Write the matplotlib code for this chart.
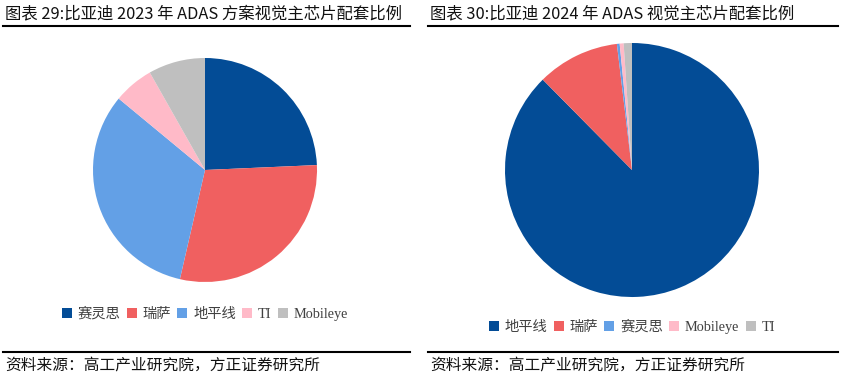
import matplotlib.pyplot as plt
from matplotlib.lines import Line2D
from matplotlib.patches import Patch

plt.rcParams['font.family'] = ['Noto Sans CJK SC', 'DejaVu Sans']

# chart data
labels_2023 = ['赛灵思', '瑞萨', '地平线', 'TI', 'Mobileye']
share_2023 = [24.3, 29.3, 32.4, 5.8, 8.2]
labels_2024 = ['地平线', '瑞萨', '赛灵思', 'Mobileye', 'TI']
share_2024 = [87.6, 10.5, 0.35, 0.5, 1.05]

c_dblue = '#034C96'
c_red = '#F06060'
c_lblue = '#63A0E6'
c_pink = '#FFBAC8'
c_gray = '#BFBFBF'
colors_2023 = [c_dblue, c_red, c_lblue, c_pink, c_gray]
colors_2024 = [c_dblue, c_red, c_lblue, c_pink, c_gray]

W, H = 841, 378
fig = plt.figure(figsize=(W / 100, H / 100), dpi=100)


def px_axes(x0, y0, x1, y1):
    return fig.add_axes([x0 / W, 1 - y1 / H, (x1 - x0) / W, (y1 - y0) / H])


def hline(x0, x1, y, lw=1.5):
    fig.add_artist(Line2D([x0 / W, x1 / W], [1 - y / H, 1 - y / H],
                          color='black', lw=lw))


def legend_for(labels, colors, cx, cy):
    handles = [Patch(facecolor=c, edgecolor='none') for c in colors]
    leg = fig.legend(handles, labels, loc='center', ncol=len(labels),
                     bbox_to_anchor=(cx / W, 1 - cy / H), frameon=False,
                     handlelength=0.7, handleheight=0.7, handletextpad=0.4,
                     columnspacing=0.45, borderpad=0,
                     prop={'family': ['Liberation Serif', 'Noto Sans CJK SC'],
                           'size': 10.3})
    for t in leg.get_texts():
        t.set_color('#404040')


def draw_pie(ax, values, colors):
    ax.pie(values, colors=colors, startangle=90, counterclock=False,
           wedgeprops={'linewidth': 0})
    ax.set_xlim(-1, 1)
    ax.set_ylim(-1, 1)
    ax.set_aspect('equal')
    ax.axis('off')


ax1 = px_axes(93, 58, 317, 282)
draw_pie(ax1, share_2023, colors_2023)

ax2 = px_axes(505, 43, 759, 297)
draw_pie(ax2, share_2024, colors_2024)

legend_for(labels_2023, colors_2023, 205, 314)
legend_for(labels_2024, colors_2024, 632, 327)

# titles
fig.text(5 / W, 1 - 14 / H, '图表 29:比亚迪 2023 年 ADAS 方案视觉主芯片配套比例',
         fontsize=11.8, va='center', ha='left', color='#111111')
fig.text(430 / W, 1 - 14 / H, '图表 30:比亚迪 2024 年 ADAS 视觉主芯片配套比例',
         fontsize=11.8, va='center', ha='left', color='#111111')
hline(3, 410, 26)
hline(428, 838, 26)

# sources
hline(3, 410, 352)
hline(428, 838, 352)
for x in (5, 430):
    fig.text(x / W, 1 - 365 / H, '资料来源：高工产业研究院，方正证券研究所',
             fontsize=11.3, va='center', ha='left', style='italic',
             color='#111111')

fig.savefig('out.png', dpi=100)
